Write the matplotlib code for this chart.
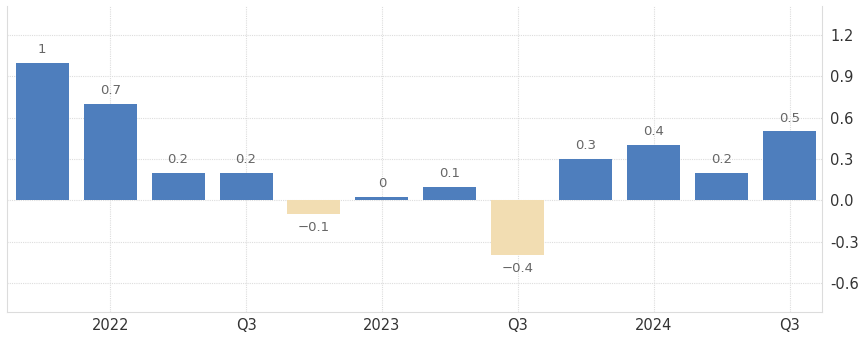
import numpy as np
import matplotlib
matplotlib.use("Agg")
import matplotlib.pyplot as plt

quarters = ["Q4 2021", "Q1 2022", "Q2 2022", "Q3 2022", "Q4 2022", "Q1 2023",
            "Q2 2023", "Q3 2023", "Q4 2023", "Q1 2024", "Q2 2024", "Q3 2024"]
values = [1.0, 0.7, 0.2, 0.2, -0.1, 0.025, 0.1, -0.4, 0.3, 0.4, 0.2, 0.5]
labels = ["1", "0.7", "0.2", "0.2", "-0.1", "0", "0.1", "-0.4", "0.3", "0.4", "0.2", "0.5"]
tick_idx = [1, 3, 5, 7, 9, 11]
tick_labels = ["2022", "Q3", "2023", "Q3", "2024", "Q3"]
y_ticks = [1.2, 0.9, 0.6, 0.3, 0.0, -0.3, -0.6]

blue = "#4e7ebd"
tan = "#f2ddb2"

fig = plt.figure(figsize=(8.6, 3.38), dpi=100)
ax = fig.add_axes([0.008, 0.077, 0.948, 0.905])

x = np.arange(len(values))
colors = [blue if v >= 0 else tan for v in values]
ax.bar(x, values, width=0.78, color=colors, zorder=3)

for xi, v, lab in zip(x, values, labels):
    if v >= 0:
        ax.annotate(lab, (xi, v), xytext=(0, 5), textcoords="offset points",
                    ha="center", va="bottom", fontsize=9.5, color="#666666")
    else:
        ax.annotate(lab.replace("-", "\u2212"), (xi, v), xytext=(0, -5), textcoords="offset points",
                    ha="center", va="top", fontsize=9.5, color="#666666")

ax.set_xlim(-0.52, 11.48)
ax.set_ylim(-0.81, 1.41)
ax.set_xticks(tick_idx)
ax.set_xticklabels(tick_labels)
ax.set_yticks(y_ticks)
ax.set_yticklabels([f"{t:.1f}" for t in y_ticks])
ax.yaxis.tick_right()
ax.tick_params(axis="both", length=0, labelsize=10.5, colors="#333333")
ax.tick_params(axis="y", pad=6)
ax.tick_params(axis="x", pad=4)

ax.grid(True, color="#dddddd", linestyle=(0, (1, 1)), linewidth=0.8, zorder=0)
for side in ["left", "bottom", "right"]:
    ax.spines[side].set_color("#dcdcdc")
    ax.spines[side].set_linewidth(0.8)
ax.spines["top"].set_visible(False)

fig.savefig("out.png", dpi=100)
